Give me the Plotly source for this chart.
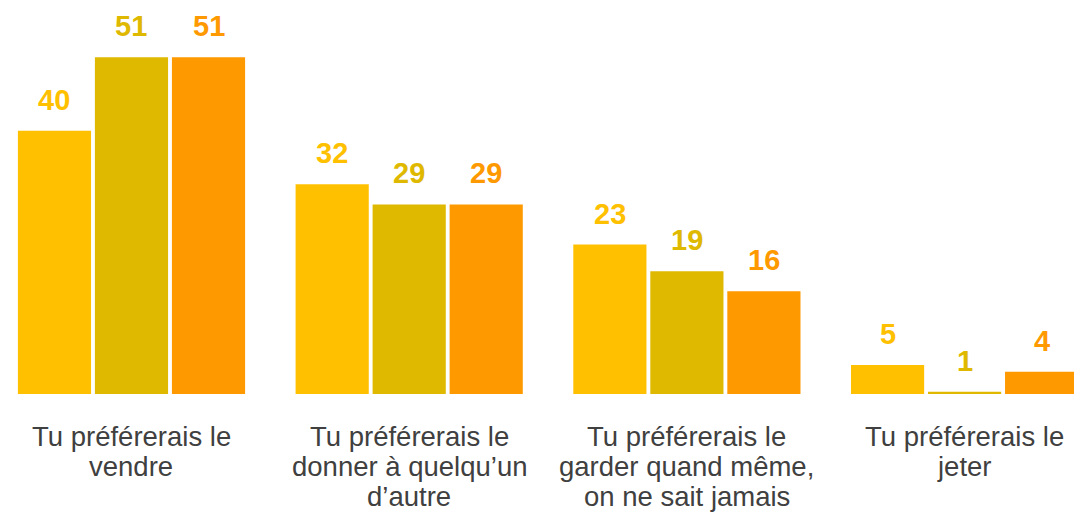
import plotly.graph_objects as go

# Survey answers (category labels split into display lines)
categories = [
    ["Tu préférerais le", "vendre"],
    ["Tu préférerais le", "donner à quelqu’un", "d’autre"],
    ["Tu préférerais le", "garder quand même,", "on ne sait jamais"],
    ["Tu préférerais le", "jeter"],
]
series_a = [40, 32, 23, 5]
series_b = [51, 29, 19, 1]
series_c = [51, 29, 16, 4]

colors = ["#FFC000", "#DFB800", "#FF9900"]
all_series = [series_a, series_b, series_c]

BARGAP = 0.168
GROUPGAP = 0.05
x_pos = list(range(len(categories)))

fig = go.Figure()
for vals, col in zip(all_series, colors):
    fig.add_trace(go.Bar(
        x=x_pos, y=vals, marker=dict(color=col, line=dict(width=0)),
        hoverinfo="skip", showlegend=False,
    ))

# Value labels above each bar
slot = (1 - BARGAP) / len(all_series)
annotations = []
for j, (vals, col) in enumerate(zip(all_series, colors)):
    for i, v in enumerate(vals):
        annotations.append(dict(
            x=i + (j - 1) * slot, y=v, xref="x", yref="y",
            text=f"<b>{v}</b>", showarrow=False,
            xanchor="center", yanchor="bottom", yshift=13,
            font=dict(family="Liberation Sans, Arial, sans-serif", size=29, color=col),
        ))

# Category labels under the axis, one annotation per line
for i, lines in enumerate(categories):
    for k, line in enumerate(lines):
        annotations.append(dict(
            x=i, y=0, xref="x", yref="paper",
            text=line, showarrow=False,
            xanchor="center", yanchor="top", yshift=-25 - 30 * k,
            font=dict(family="Liberation Sans, Arial, sans-serif", size=27.5, color="#404040"),
        ))

fig.update_layout(
    width=1074, height=513,
    margin=dict(l=0, r=0, t=0, b=119),
    barmode="group", bargap=BARGAP, bargroupgap=GROUPGAP,
    plot_bgcolor="white", paper_bgcolor="white",
    annotations=annotations,
    xaxis=dict(range=[-0.4735, 3.394], showticklabels=False, showgrid=False,
               zeroline=False, showline=False, ticks=""),
    yaxis=dict(range=[0.66, 59.55], visible=False),
)

fig.write_html("out.html")
